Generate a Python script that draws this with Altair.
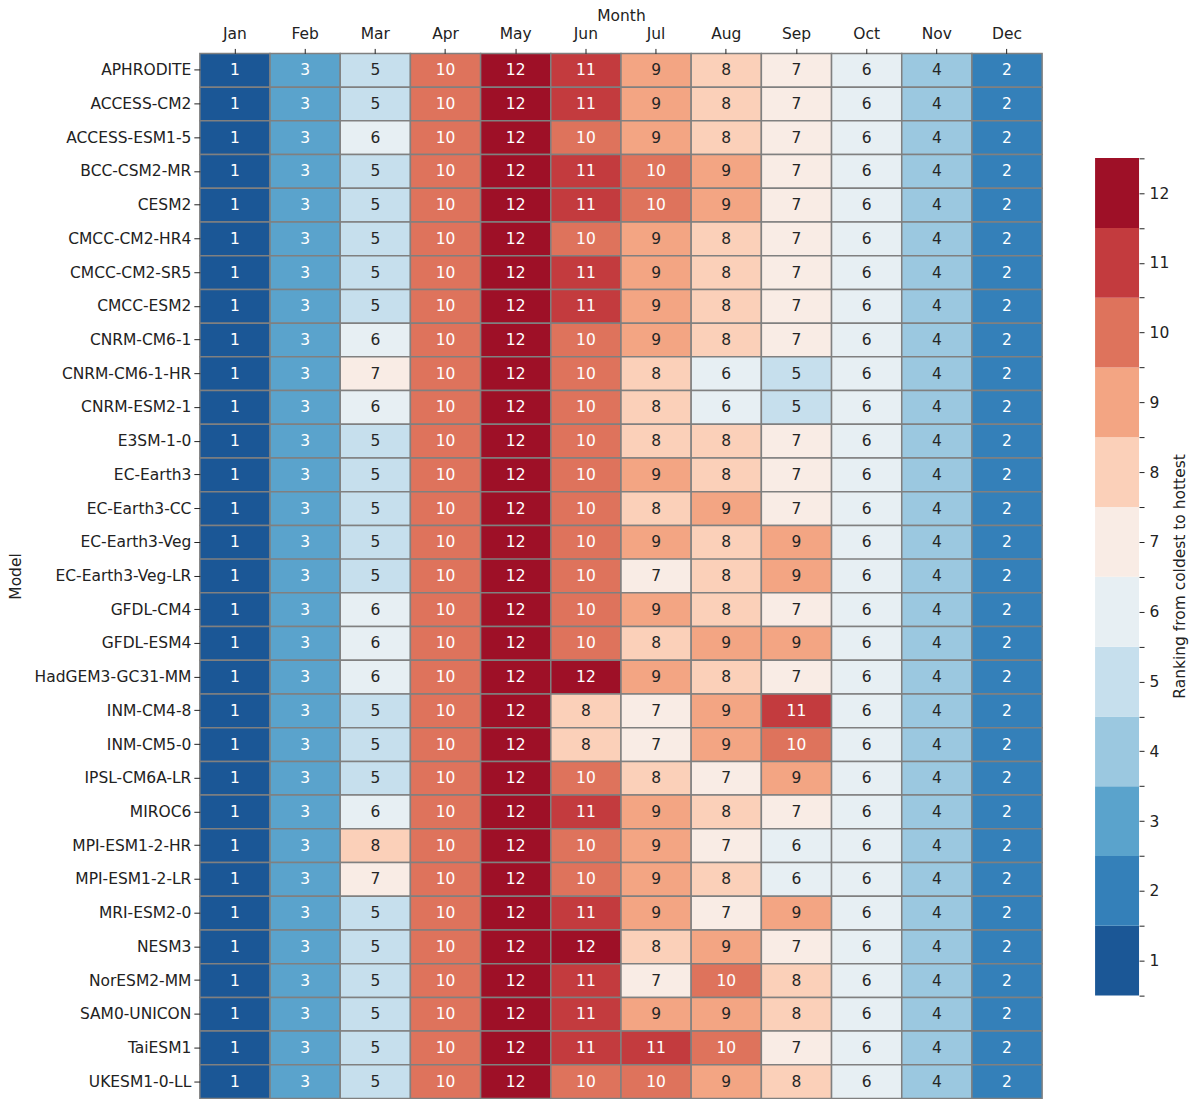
import altair as alt
import pandas as pd

months = ["Jan", "Feb", "Mar", "Apr", "May", "Jun", "Jul", "Aug", "Sep", "Oct", "Nov", "Dec"]

models = [
    "APHRODITE", "ACCESS-CM2", "ACCESS-ESM1-5", "BCC-CSM2-MR", "CESM2",
    "CMCC-CM2-HR4", "CMCC-CM2-SR5", "CMCC-ESM2", "CNRM-CM6-1", "CNRM-CM6-1-HR",
    "CNRM-ESM2-1", "E3SM-1-0", "EC-Earth3", "EC-Earth3-CC", "EC-Earth3-Veg",
    "EC-Earth3-Veg-LR", "GFDL-CM4", "GFDL-ESM4", "HadGEM3-GC31-MM", "INM-CM4-8",
    "INM-CM5-0", "IPSL-CM6A-LR", "MIROC6", "MPI-ESM1-2-HR", "MPI-ESM1-2-LR",
    "MRI-ESM2-0", "NESM3", "NorESM2-MM", "SAM0-UNICON", "TaiESM1", "UKESM1-0-LL",
]

# ranks per model, Jan..Dec
ranks = [
    [1, 3, 5, 10, 12, 11, 9, 8, 7, 6, 4, 2],
    [1, 3, 5, 10, 12, 11, 9, 8, 7, 6, 4, 2],
    [1, 3, 6, 10, 12, 10, 9, 8, 7, 6, 4, 2],
    [1, 3, 5, 10, 12, 11, 10, 9, 7, 6, 4, 2],
    [1, 3, 5, 10, 12, 11, 10, 9, 7, 6, 4, 2],
    [1, 3, 5, 10, 12, 10, 9, 8, 7, 6, 4, 2],
    [1, 3, 5, 10, 12, 11, 9, 8, 7, 6, 4, 2],
    [1, 3, 5, 10, 12, 11, 9, 8, 7, 6, 4, 2],
    [1, 3, 6, 10, 12, 10, 9, 8, 7, 6, 4, 2],
    [1, 3, 7, 10, 12, 10, 8, 6, 5, 6, 4, 2],
    [1, 3, 6, 10, 12, 10, 8, 6, 5, 6, 4, 2],
    [1, 3, 5, 10, 12, 10, 8, 8, 7, 6, 4, 2],
    [1, 3, 5, 10, 12, 10, 9, 8, 7, 6, 4, 2],
    [1, 3, 5, 10, 12, 10, 8, 9, 7, 6, 4, 2],
    [1, 3, 5, 10, 12, 10, 9, 8, 9, 6, 4, 2],
    [1, 3, 5, 10, 12, 10, 7, 8, 9, 6, 4, 2],
    [1, 3, 6, 10, 12, 10, 9, 8, 7, 6, 4, 2],
    [1, 3, 6, 10, 12, 10, 8, 9, 9, 6, 4, 2],
    [1, 3, 6, 10, 12, 12, 9, 8, 7, 6, 4, 2],
    [1, 3, 5, 10, 12, 8, 7, 9, 11, 6, 4, 2],
    [1, 3, 5, 10, 12, 8, 7, 9, 10, 6, 4, 2],
    [1, 3, 5, 10, 12, 10, 8, 7, 9, 6, 4, 2],
    [1, 3, 6, 10, 12, 11, 9, 8, 7, 6, 4, 2],
    [1, 3, 8, 10, 12, 10, 9, 7, 6, 6, 4, 2],
    [1, 3, 7, 10, 12, 10, 9, 8, 6, 6, 4, 2],
    [1, 3, 5, 10, 12, 11, 9, 7, 9, 6, 4, 2],
    [1, 3, 5, 10, 12, 12, 8, 9, 7, 6, 4, 2],
    [1, 3, 5, 10, 12, 11, 7, 10, 8, 6, 4, 2],
    [1, 3, 5, 10, 12, 11, 9, 9, 8, 6, 4, 2],
    [1, 3, 5, 10, 12, 11, 11, 10, 7, 6, 4, 2],
    [1, 3, 5, 10, 12, 10, 10, 9, 8, 6, 4, 2],
]

levels = list(range(1, 13))
palette = ["#1b5796", "#3480b9", "#5aa3cc", "#9bc8e0", "#c6dfed", "#e7eff3",
           "#f9ece5", "#fbd0b9", "#f3a583", "#de735c", "#c33b3e", "#9e1027"]

rows = []
for m, r in zip(models, ranks):
    for mon, v in zip(months, r):
        rows.append({"Model": m, "Month": mon, "Rank": v})
df = pd.DataFrame(rows)

FONT = "DejaVu Sans"
FS = 15.5
color_scale = alt.Scale(domain=levels, range=palette)

base = alt.Chart(df).encode(
    x=alt.X("Month:O", sort=months,
            scale=alt.Scale(paddingInner=0, paddingOuter=0),
            axis=alt.Axis(orient="top", title="Month", labelAngle=0,
                          labelFontSize=FS, titleFontSize=FS, titleFontWeight="normal",
                          tickSize=5, labelPadding=7, titlePadding=3, domain=False,
                          labelColor="#222", titleColor="#222", tickColor="#222")),
    y=alt.Y("Model:N", sort=models,
            scale=alt.Scale(paddingInner=0, paddingOuter=0),
            axis=alt.Axis(title="Model", labelFontSize=FS, titleFontSize=FS,
                          titleFontWeight="normal", tickSize=6, labelPadding=3,
                          titlePadding=10, domain=False,
                          labelColor="#222", titleColor="#222", tickColor="#222")),
)

rects = base.mark_rect(stroke="#808080", strokeWidth=1.5).encode(
    color=alt.Color("Rank:O", scale=color_scale, legend=None)
)
texts = base.mark_text(fontSize=FS, font=FONT).encode(
    text="Rank:Q",
    color=alt.condition(
        (alt.datum.Rank >= 10) | (alt.datum.Rank <= 3),
        alt.value("#ffffff"),
        alt.value("#262626"),
    ),
)
heat = (rects + texts).properties(width=843, height=1046)

cb_df = pd.DataFrame({"Rank": levels, "lo": [v - 0.5 for v in levels], "hi": [v + 0.5 for v in levels]})
tick_vals = [x / 2 for x in range(1, 26)]
colorbar = alt.Chart(cb_df).mark_rect().encode(
    x=alt.value(0), x2=alt.value(44),
    y=alt.Y("lo:Q", scale=alt.Scale(domain=[-0.975, 14.0], nice=False, zero=False),
            axis=alt.Axis(orient="right", values=tick_vals,
                          labelExpr="datum.value % 1 == 0 ? datum.value : ''",
                          title="Ranking from coldest to hottest", titleAngle=270,
                          labelFontSize=FS, titleFontSize=FS, titleFontWeight="normal",
                          tickSize=5, labelPadding=5, titlePadding=19, domain=False, grid=False,
                          labelColor="#222", titleColor="#222", tickColor="#222")),
    y2="hi:Q",
    color=alt.Color("Rank:O", scale=color_scale, legend=None),
).properties(width=44, height=1046)

chart = alt.hconcat(heat, colorbar, spacing=52).properties(
    padding={"left": 0, "top": 0, "right": 0, "bottom": 0}
).configure(font=FONT).configure_view(strokeWidth=0, stroke="transparent")

chart.save("out.html", embed_options={"renderer": "svg", "actions": False})
